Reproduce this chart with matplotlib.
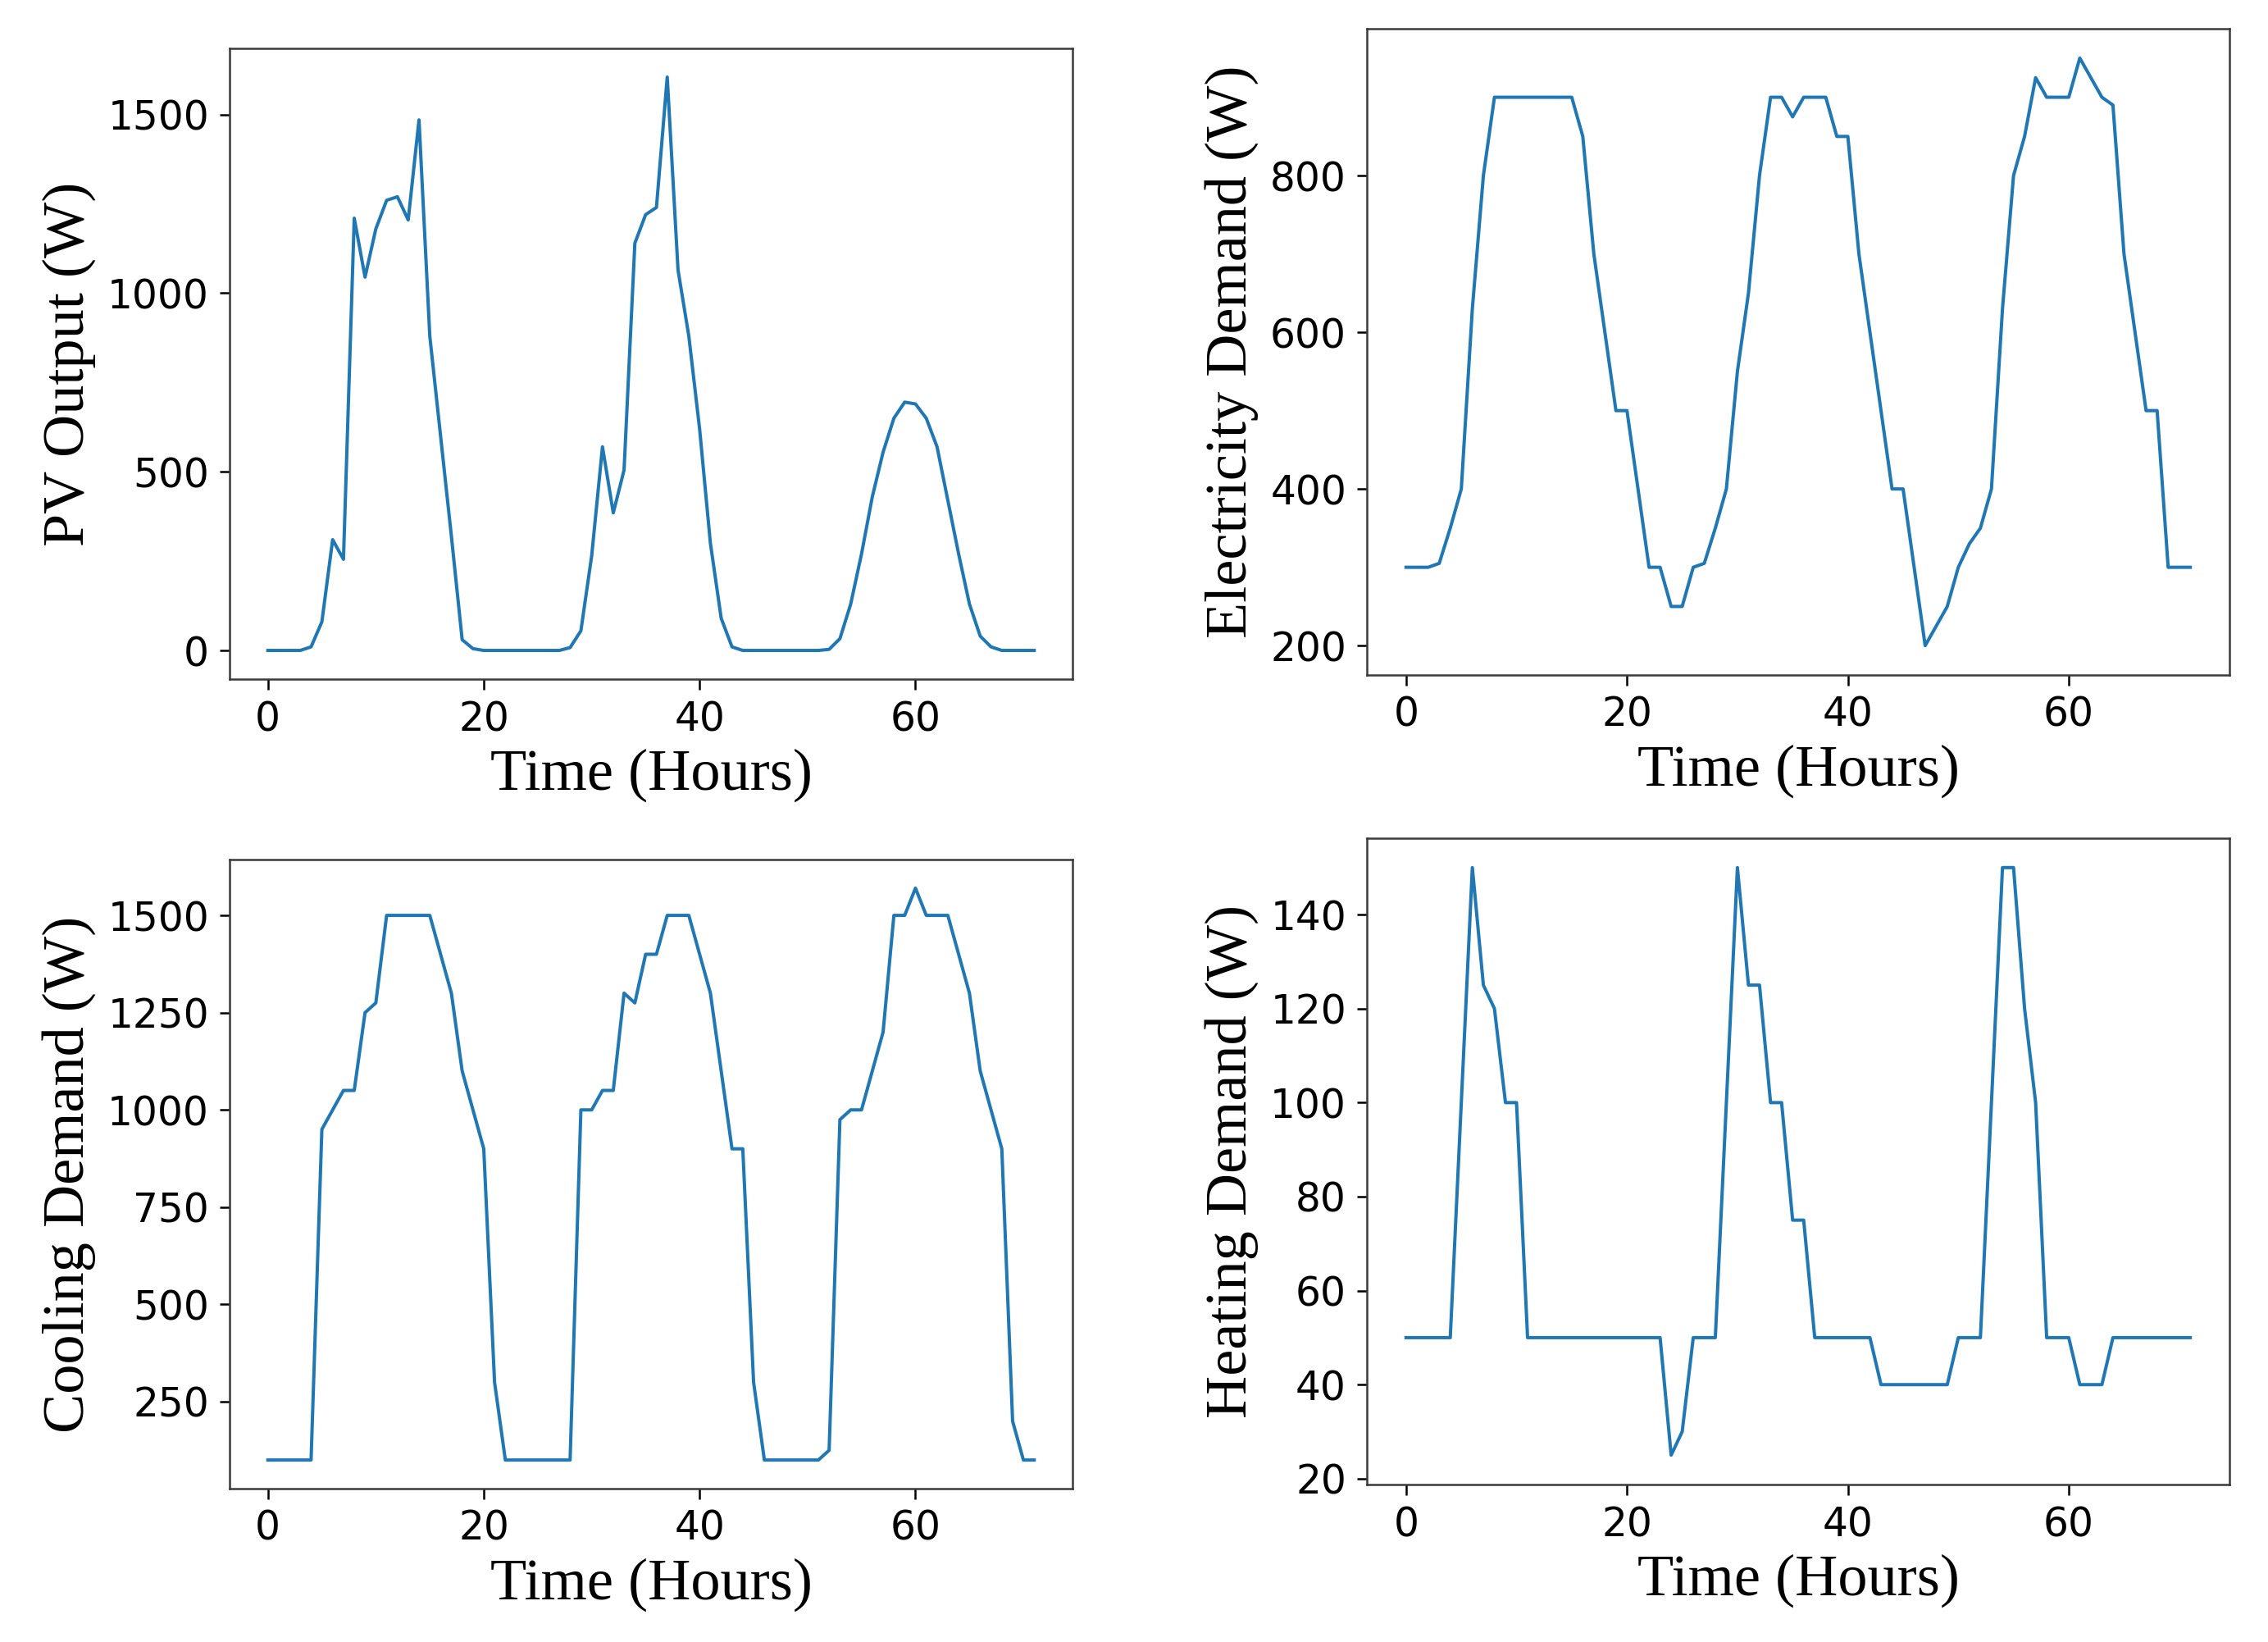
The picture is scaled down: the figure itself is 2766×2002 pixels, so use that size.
import matplotlib
matplotlib.use("Agg")
import matplotlib.pyplot as plt
import numpy as np

hours = list(range(72))

pv_output = [0, 0, 0, 0, 10, 80, 310, 255, 1210, 1045, 1180, 1260, 1270, 1205, 1485,
             880, 600, 320, 30, 5, 0, 0, 0, 0, 0, 0, 0, 0, 8, 55, 265, 570, 385, 505,
             1140, 1220, 1240, 1605, 1065, 880, 620, 300, 90, 10, 0, 0, 0, 0, 0, 0, 0, 0,
             3, 33, 130, 270, 430, 555, 650, 695, 690, 650, 570, 420, 270, 130, 40, 10,
             0, 0, 0, 0]

electricity_demand = [300, 300, 300, 305, 350, 400, 630, 800, 900, 900, 900, 900, 900, 900,
                      900, 900, 850, 700, 600, 500, 500, 400, 300, 300, 250, 250, 300, 305,
                      350, 400, 550, 650, 800, 900, 900, 875, 900, 900, 900, 850, 850, 700,
                      600, 500, 400, 400, 300, 200, 225, 250, 300, 330, 350, 400, 630, 800,
                      850, 925, 900, 900, 900, 950, 925, 900, 890, 700, 600, 500, 500, 300,
                      300, 300]

cooling_demand = [100, 100, 100, 100, 100, 950, 1000, 1050, 1050, 1250, 1275, 1500, 1500,
                  1500, 1500, 1500, 1400, 1300, 1100, 1000, 900, 300, 100, 100, 100, 100,
                  100, 100, 100, 1000, 1000, 1050, 1050, 1300, 1275, 1400, 1400, 1500, 1500,
                  1500, 1400, 1300, 1100, 900, 900, 300, 100, 100, 100, 100, 100, 100, 125,
                  975, 1000, 1000, 1100, 1200, 1500, 1500, 1570, 1500, 1500, 1500, 1400,
                  1300, 1100, 1000, 900, 200, 100, 100]

heating_demand = [50, 50, 50, 50, 50, 100, 150, 125, 120, 100, 100, 50, 50, 50, 50, 50, 50,
                  50, 50, 50, 50, 50, 50, 50, 25, 30, 50, 50, 50, 100, 150, 125, 125, 100,
                  100, 75, 75, 50, 50, 50, 50, 50, 50, 40, 40, 40, 40, 40, 40, 40, 50, 50,
                  50, 100, 150, 150, 120, 100, 50, 50, 50, 40, 40, 40, 50, 50, 50, 50, 50,
                  50, 50, 50]

x_label = "Time (Hours)"
y_labels = ["PV Output (W)", "Electricity Demand (W)", "Cooling Demand (W)", "Heating Demand (W)"]
series = [pv_output, electricity_demand, cooling_demand, heating_demand]

W, H = 2766, 2002
fig = plt.figure(figsize=(W / 100, H / 100), dpi=100)

# axes rectangles in pixels: (left, right, top, bottom)
rects_px = [(280, 1308, 59, 828), (1667, 2719, 35, 823),
            (280, 1308, 1048, 1815), (1667, 2719, 1022, 1810)]

line_color = "#1f77b4"
spine_color = "#3a3a3a"

for (l, r, t, b), ys, yl in zip(rects_px, series, y_labels):
    ax = fig.add_axes([l / W, 1 - b / H, (r - l) / W, (b - t) / H])
    ax.plot(hours, ys, color=line_color, linewidth=2.9)
    for sp in ax.spines.values():
        sp.set_color(spine_color)
        sp.set_linewidth(1.8)
    ax.tick_params(axis="both", direction="out", length=9, width=1.8, pad=9,
                   labelsize=35, colors="black")
    for lab in ax.get_xticklabels() + ax.get_yticklabels():
        lab.set_fontfamily("DejaVu Sans")
    ax.set_xticks([0, 20, 40, 60])
    ax.set_xlabel(x_label, fontsize=52, fontfamily="Liberation Serif", labelpad=8)
    ax.set_ylabel(yl, fontsize=52, fontfamily="Liberation Serif", labelpad=10)

fig.savefig("out.png", dpi=100, facecolor="white")
